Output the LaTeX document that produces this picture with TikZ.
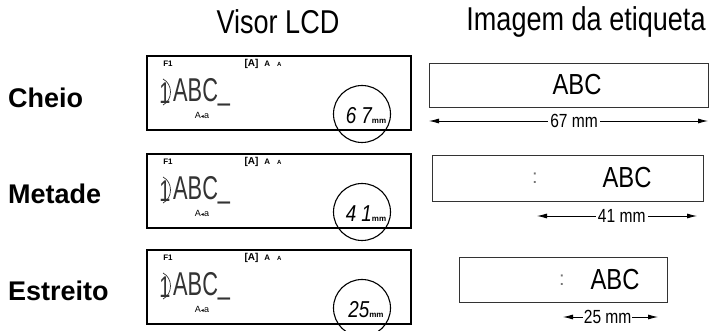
\documentclass[tikz,border=0pt]{standalone}
\usepackage{fontspec}
\setmainfont{Liberation Sans}
\newfontfamily\narrowfont[FakeStretch=0.82]{Liberation Sans}
\newfontfamily\segfont[FakeStretch=0.66]{Liberation Sans}
\newfontfamily\symfont{DejaVu Sans}
\usetikzlibrary{arrows.meta}

\tikzset{
  lcd/.style={draw, line width=1.8pt, minimum width=264pt, minimum height=74pt, inner sep=0, anchor=north west},
  tape/.style={draw=black!80, line width=1.3pt, inner sep=0, anchor=north west},
  zoomring/.style={draw, circle, line width=1.1pt, minimum size=57pt, inner sep=0},
  rowname/.style={font=\fontsize{27}{27}\selectfont\bfseries, anchor=west, inner sep=0},
  header/.style={font=\narrowfont\fontsize{33}{33}\selectfont},
  tapetext/.style={font=\narrowfont\fontsize{29}{29}\selectfont},
  widthlabel/.style={font=\narrowfont\fontsize{19}{19}\selectfont, fill=white, inner sep=2pt},
  dimarrow/.style={line width=0.8pt, {Latex[length=10pt,width=5pt]}-{Latex[length=10pt,width=5pt]}},
  marker/.style={text=black!55, font=\fontsize{20}{20}\selectfont},
  fkey/.style={font=\fontsize{8}{8}\selectfont\bfseries, inner sep=0},
  caps/.style={font=\bfseries, inner sep=0},
  linetext/.style={font=\segfont\fontsize{33}{33}\selectfont, text=black!80, inner sep=0, anchor=west},
  linenum/.style={font=\segfont\fontsize{30}{30}\selectfont, text=black!80, inner sep=0},
  bracket/.style={draw=black!80, line width=0.7pt},
  sizetext/.style={font=\fontsize{9}{9}\selectfont, inner sep=0},
  tapelen/.style={inner sep=0}
}

\newcommand{\lcdline}{ABC\raisebox{2pt}{\_}}
\newcommand{\capsmarks}{{\fontsize{10}{10}\selectfont[A]}\hspace{6pt}{\fontsize{8}{8}\selectfont A}\hspace{7pt}{\fontsize{6}{6}\selectfont A}}
\newcommand{\sizemark}{A{\symfont\fontsize{6}{6}\selectfont ◂}a}
\newcommand{\tapelength}[1]{{\narrowfont\itshape\fontsize{23}{23}\selectfont #1}{\fontsize{8}{8}\selectfont\bfseries mm}}

\begin{document}
\begin{tikzpicture}[x=1pt, y=-1pt]
    \useasboundingbox (0,0) rectangle (710,331);

    % headers
    \node[header] (lcdtitle) at (278,22) {Visor LCD};
    \node[header] (tapetitle) at (586,22) {Imagem da etiqueta};

    % row names
    \node[rowname] (full) at (8,98) {Cheio};
    \node[rowname] (half) at (8,194) {Metade};
    \node[rowname] (narrow) at (8,291) {Estreito};

    % LCD screens
    \node[lcd] (lcdfull) at (146,55) {};
    \node[lcd] (lcdhalf) at (146,153) {};
    \node[lcd] (lcdnarrow) at (146,249) {};

    % screen contents
    \node[fkey] (ffull) at (168,64) {F1};
    \node[caps] (capsfull) at (263,64) {\capsmarks};
    \draw[bracket] (163,79) .. controls (173,84) and (173,100) .. (163,105);
    \node[linenum] (numfull) at (165,93) {1};
    \node[linetext] (textfull) at (173,92) {\lcdline};
    \node[sizetext] (sizefull) at (202,115) {\sizemark};
    \node[zoomring] (ringfull) at (362,114) {};
    \node[tapelen] (lenfull) at (366,116) {\tapelength{6 7}};

    \node[fkey] (fhalf) at (168,162) {F1};
    \node[caps] (capshalf) at (263,162) {\capsmarks};
    \draw[bracket] (163,177) .. controls (173,182) and (173,198) .. (163,203);
    \node[linenum] (numhalf) at (165,191) {1};
    \node[linetext] (texthalf) at (173,190) {\lcdline};
    \node[sizetext] (sizehalf) at (202,213) {\sizemark};
    \node[zoomring] (ringhalf) at (362,212) {};
    \node[tapelen] (lenhalf) at (366,214) {\tapelength{4 1}};

    \node[fkey] (fnarrow) at (168,258) {F1};
    \node[caps] (capsnarrow) at (263,258) {\capsmarks};
    \draw[bracket] (163,273) .. controls (173,278) and (173,294) .. (163,299);
    \node[linenum] (numnarrow) at (165,287) {1};
    \node[linetext] (textnarrow) at (173,286) {\lcdline};
    \node[sizetext] (sizenarrow) at (202,309) {\sizemark};
    \node[zoomring] (ringnarrow) at (362,308) {};
    \node[tapelen] (lennarrow) at (366,310) {\tapelength{25}};

    % label images
    \node[tape, minimum width=279pt, minimum height=44pt] (tapefull) at (429,63) {};
    \node[tapetext] (abcfull) at (577,85) {ABC};
    \coordinate (fullleft) at (429,121);
    \coordinate (fullright) at (708,121);
    \draw[dimarrow] (fullleft) -- (fullright) node[widthlabel, pos=0.52] {67 mm};

    \node[tape, minimum width=271pt, minimum height=46pt] (tapehalf) at (432,155) {};
    \node[marker] (markhalf) at (535,178) {:};
    \node[tapetext] (abchalf) at (627,178) {ABC};
    \coordinate (halfleft) at (537,216);
    \coordinate (halfright) at (697,216);
    \draw[dimarrow] (halfleft) -- (halfright) node[widthlabel, pos=0.53] {41 mm};

    \node[tape, minimum width=208pt, minimum height=45pt] (tapenarrow) at (459,257) {};
    \node[marker] (marknarrow) at (562,280) {:};
    \node[tapetext] (abcnarrow) at (615,280) {ABC};
    \coordinate (narrowleft) at (563,317);
    \coordinate (narrowright) at (658,317);
    \draw[dimarrow] (narrowleft) -- (narrowright) node[widthlabel, pos=0.47, inner sep=1pt] {25 mm};
\end{tikzpicture}
\end{document}
